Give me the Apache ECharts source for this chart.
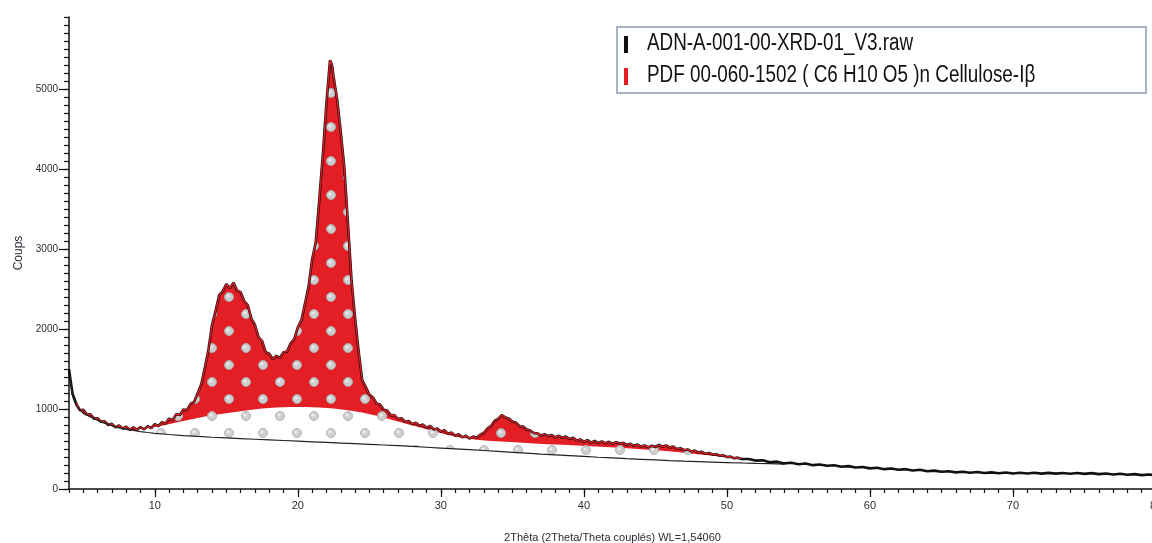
<!DOCTYPE html>
<html>
<head>
<meta charset="utf-8">
<script src="https://cdn.jsdelivr.net/npm/echarts@6/dist/echarts.min.js"></script>
<style>
html,body{margin:0;padding:0;background:#fff;}
#chart{width:1152px;height:543px;}
</style>
</head>
<body>
<div id="chart"></div>
<script>
// ---- Data ----
const seriesNames = ['ADN-A-001-00-XRD-01_V3.raw', 'PDF 00-060-1502 ( C6 H10 O5 )n Cellulose-Iβ'];
const xTickLabels = [10, 20, 30, 40, 50, 60, 70, 80];
const yTickLabels = [0, 1000, 2000, 3000, 4000, 5000];

// measured scan: [2theta, counts]
const rawScan = [
[4.00,1500],[4.10,1370],[4.25,1190],[4.50,1070],[4.75,985],[5.00,990],[5.25,930],[5.50,935],[5.75,880],
[6.00,885],[6.25,840],[6.50,845],[6.75,800],[7.00,815],[7.25,770],[7.50,795],[7.75,755],[8.00,780],
[8.25,740],[8.50,770],[8.75,740],[9.00,775],[9.25,745],[9.50,785],[9.75,760],[10.00,810],[10.25,785],
[10.50,835],[10.75,815],[11.00,880],[11.25,860],[11.50,935],[11.75,925],[12.00,995],[12.25,985],
[12.50,1065],[12.75,1090],[13.00,1200],[13.25,1310],[13.50,1520],[13.75,1740],[14.00,2050],[14.25,2230],
[14.50,2420],[14.75,2470],[15.00,2560],[15.25,2510],[15.50,2580],[15.75,2480],[16.00,2460],[16.25,2350],
[16.50,2300],[16.75,2130],[17.00,2050],[17.25,1900],[17.50,1850],[17.75,1710],[18.00,1690],[18.25,1625],
[18.50,1665],[18.75,1640],[19.00,1710],[19.25,1720],[19.50,1820],[19.75,1875],[20.00,2020],[20.25,2110],
[20.50,2320],[20.75,2530],[21.00,2870],[21.25,3080],[21.50,3620],[21.75,4180],[22.00,4830],[22.25,5360],
[22.40,5290],[22.50,5150],[22.75,4870],[23.00,4460],[23.25,4020],[23.50,3330],[23.75,2620],[24.00,2140],
[24.25,1720],[24.50,1360],[24.75,1275],[25.00,1180],[25.25,1145],[25.50,1070],[25.75,1055],[26.00,990],
[26.25,980],[26.50,920],[26.75,925],[27.00,875],[27.25,885],[27.50,840],[27.75,850],[28.00,810],
[28.25,830],[28.50,790],[28.75,805],[29.00,765],[29.25,790],[29.50,745],[29.75,755],[30.00,720],
[30.25,735],[30.50,690],[30.75,705],[31.00,665],[31.25,685],[31.50,645],[31.75,665],[32.00,630],
[32.25,655],[32.50,640],[32.75,680],[33.00,700],[33.25,755],[33.50,785],[33.75,850],[34.00,875],
[34.25,925],[34.50,895],[34.75,880],[35.00,845],[35.25,830],[35.50,785],[35.75,780],[36.00,745],
[36.25,730],[36.50,700],[36.75,695],[37.00,670],[37.25,685],[37.50,660],[37.75,675],[38.00,645],
[38.25,665],[38.50,640],[38.75,655],[39.00,625],[39.25,640],[39.50,605],[39.75,620],[40.00,590],
[40.25,610],[40.50,580],[40.75,600],[41.00,575],[41.25,595],[41.50,570],[41.75,590],[42.00,565],
[42.25,585],[42.50,570],[42.75,575],[43.00,550],[43.25,565],[43.50,540],[43.75,555],[44.00,530],
[44.25,545],[44.50,520],[44.75,540],[45.00,525],[45.25,550],[45.50,530],[45.75,545],[46.00,520],
[46.25,530],[46.50,500],[46.75,510],[47.00,485],[47.25,495],[47.50,470],[47.75,480],[48.00,455],
[48.25,465],[48.50,440],[48.75,450],[49.00,430],[49.25,435],[49.50,415],[49.75,420],[50.00,400],
[50.25,405],[50.50,385],[50.75,392],[51.00,375],[51.5,375],[52.0,355],[52.5,358],[53.0,335],[53.5,342],
[54.0,320],[54.5,328],[55.0,310],[55.5,318],[56.0,298],[56.5,306],[57.0,290],[57.5,296],[58.0,278],
[58.5,286],[59.0,268],[59.5,276],[60.0,258],[60.5,266],[61.0,248],[61.5,256],[62.0,240],[62.5,248],
[63.0,232],[63.5,240],[64.0,222],[64.5,230],[65.0,215],[65.5,222],[66.0,208],[66.5,216],[67.0,203],
[67.5,212],[68.0,200],[68.5,208],[69.0,197],[69.5,206],[70.0,194],[70.5,204],[71.0,193],[71.5,203],
[72.0,192],[72.5,202],[73.0,192],[73.5,201],[74.0,191],[74.5,200],[75.0,189],[75.5,198],[76.0,186],
[76.5,194],[77.0,182],[77.5,190],[78.0,178],[78.5,186],[79.0,173],[79.5,181],[80.0,170]
];

// top of amorphous (dotted white) contribution
const amorphousTop = [
[8.75,745],[9.5,765],[10.5,790],[11.5,830],[12.5,870],[13.5,905],[14.5,935],[15.5,960],[16.5,985],
[17.5,1005],[18.5,1018],[19.5,1025],[20.5,1025],[21.5,1020],[22.5,1005],[23.5,985],[24.5,955],
[25.5,915],[26.5,870],[27.5,820],[28.5,772],[29.5,722],[30.5,675],[31.5,640],[32.5,615],[33.5,600],
[34.5,590],[35.5,580],[36.5,570],[37.5,560],[38.5,552],[39.5,545],[40.5,535],[41.5,525],[42.5,515],
[43.5,502],[44.5,490],[45.5,478],[46.5,462],[47.5,445],[48.5,425],[49.5,405],[50.5,385],[51.0,372]
];

// background curve
const backgroundCurve = [
[4.0,1450],[4.25,1160],[4.5,1040],[5.0,945],[5.5,900],[6.0,858],[6.5,820],[7.0,790],[7.5,765],
[8.0,746],[8.5,731],[9.0,718],[9.5,706],[10,696],[11,681],[12,668],[13,657],[14,647],[15,638],
[16,630],[17,622],[18,614],[19,606],[20,598],[21,590],[22,582],[23,574],[24,566],[25,558],[26,550],
[27,541],[28,532],[29,522],[30,512],[31,502],[32,492],[33,481],[34,470],[35,459],[36,448],[37,437],
[38,427],[39,417],[40,407],[41,397],[42,388],[43,379],[44,371],[45,363],[46,355],[47,348],[48,342],
[49,336],[50,330],[51,325],[52,320],[53,316],[54,312]
];

// ---- derived ----
const phaseFit = rawScan.filter(p => p[0] >= 4.5 && p[0] <= 51);
const backgroundFill = backgroundCurve.filter(p => p[0] <= 53);

function dotPattern(bg, dot, ring) {
  const c = document.createElement('canvas');
  c.width = 34; c.height = 34;
  const g = c.getContext('2d');
  g.fillStyle = bg; g.fillRect(0, 0, 34, 34);
  [[8, 8], [25, 25]].forEach(function (p) {
    g.beginPath(); g.arc(p[0], p[1], 4.5, 0, Math.PI * 2);
    g.fillStyle = dot; g.fill();
    g.lineWidth = 1; g.strokeStyle = ring; g.stroke();
    g.beginPath(); g.arc(p[0] - 1, p[1] - 1, 1.6, 0, Math.PI * 2);
    g.fillStyle = '#ececec'; g.fill();
  });
  return c;
}

const RED = '#e41e25';
const labelColor = '#2b2b36';
const FONT = 'Liberation Sans, Arial, sans-serif';
const plain = v => String(v);
const chart = echarts.init(document.getElementById('chart'), null, {renderer: 'canvas'});

const option = {
  animation: false,
  backgroundColor: '#fff',
  grid: {left: 69, top: 17, width: 1087, height: 472, containLabel: false, outerBoundsMode: 'none'},
  xAxis: [
    {
      type: 'value', min: 4, max: 80, interval: 1, position: 'bottom', z: 5,
      axisLine: {show: true, lineStyle: {color: '#111', width: 1.5}},
      axisTick: {show: true, length: 4, lineStyle: {color: '#111', width: 1.2}},
      axisLabel: {customValues: xTickLabels, formatter: plain, fontSize: 11, color: labelColor, margin: 11, fontFamily: FONT},
      splitLine: {show: false},
      name: '2Thêta (2Theta/Theta couplés) WL=1,54060',
      nameLocation: 'middle', nameGap: 43,
      nameTextStyle: {fontSize: 11, color: labelColor, fontFamily: FONT}
    },
    {
      type: 'value', min: 4, max: 80, position: 'bottom', z: 5,
      axisLine: {show: false},
      axisTick: {show: true, customValues: xTickLabels, length: 8, lineStyle: {color: '#111', width: 1.2}},
      axisLabel: {show: false},
      splitLine: {show: false}
    }
  ],
  yAxis: [
    {
      type: 'value', min: 0, max: 5900, interval: 100, position: 'left', z: 5,
      axisLine: {show: true, lineStyle: {color: '#111', width: 1.5}},
      axisTick: {show: true, length: 5, lineStyle: {color: '#111', width: 1.2}},
      axisLabel: {customValues: yTickLabels, formatter: plain, fontSize: 10, color: labelColor, margin: 11, fontFamily: FONT},
      splitLine: {show: false},
      name: 'Coups', nameLocation: 'middle', nameGap: 44,
      nameTextStyle: {fontSize: 12, color: labelColor, fontFamily: FONT}
    },
    {
      type: 'value', min: 0, max: 5900, position: 'left', z: 5,
      axisLine: {show: false},
      axisTick: {show: true, customValues: yTickLabels, length: 10, lineStyle: {color: '#111', width: 1.2}},
      axisLabel: {show: false},
      splitLine: {show: false}
    }
  ],
  series: [
    {
      name: seriesNames[0], type: 'line', data: rawScan, symbol: 'none',
      lineStyle: {color: '#111', width: 2.6}, z: 2
    },
    {
      name: seriesNames[1], type: 'line', data: phaseFit, symbol: 'none',
      lineStyle: {color: RED, width: 1.3},
      itemStyle: {color: RED},
      areaStyle: {color: {image: dotPattern(RED, '#cdcdcd', '#aaaaaa'), repeat: 'repeat'}, opacity: 1},
      z: 2
    },
    {
      name: 'amorphous', type: 'line', data: amorphousTop, symbol: 'none',
      lineStyle: {width: 0, opacity: 0},
      areaStyle: {color: {image: dotPattern('#ffffff', '#cfcfcf', '#b5b5b5'), repeat: 'repeat'}, opacity: 1},
      z: 2
    },
    {
      name: 'backgroundFill', type: 'line', data: backgroundFill, symbol: 'none',
      lineStyle: {width: 0, opacity: 0},
      areaStyle: {color: '#ffffff', opacity: 1},
      z: 2
    },
    {
      name: 'background', type: 'line', data: backgroundCurve, symbol: 'none',
      lineStyle: {color: '#222', width: 1.2}, z: 2
    }
  ],
  graphic: [
    {type: 'rect', x: 617, y: 27, shape: {width: 529, height: 66},
     style: {fill: '#ffffff', stroke: '#8d9ab0', lineWidth: 1.5}, z: 10},
    {type: 'rect', x: 624, y: 36, shape: {width: 4, height: 17}, style: {fill: '#111'}, z: 11},
    {type: 'rect', x: 624, y: 68, shape: {width: 4, height: 17}, style: {fill: RED}, z: 11},
    {type: 'text', x: 647, y: 44, scaleX: 0.82, z: 11,
     style: {text: seriesNames[0], fill: '#111', font: '23px "Liberation Sans", Arial, sans-serif',
             verticalAlign: 'middle', align: 'left'}},
    {type: 'text', x: 647, y: 76, scaleX: 0.82, z: 11,
     style: {text: seriesNames[1], fill: '#111', font: '23px "Liberation Sans", Arial, sans-serif',
             verticalAlign: 'middle', align: 'left'}}
  ]
};
chart.setOption(option);
</script>
</body>
</html>
